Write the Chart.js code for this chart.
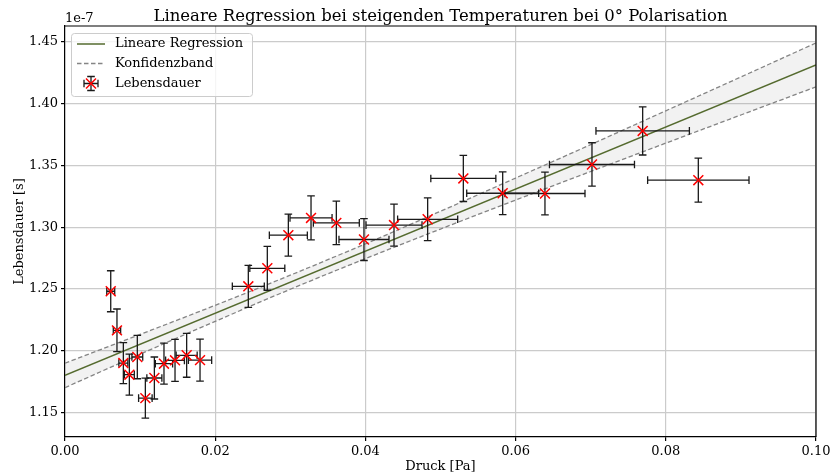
<!DOCTYPE html>
<html>
<head>
<meta charset="utf-8">
<script src="https://cdn.jsdelivr.net/npm/chart.js@4/dist/chart.umd.min.js"></script>
<style>
  html, body { margin: 0; padding: 0; background: #fff; }
  #wrap { width: 831px; height: 475px; }
</style>
</head>
<body>
<div id="wrap"><canvas id="c" width="831" height="475"></canvas></div>
<script>
// Pressure [Pa]
const pressure = [0.00609, 0.00692, 0.00777, 0.00857, 0.00963, 0.01070, 0.01190, 0.01318, 0.01465, 0.01620, 0.01798,
                  0.02441, 0.02694, 0.02974, 0.03276, 0.03613, 0.03981, 0.04381, 0.04829,
                  0.05304, 0.05828, 0.06391, 0.07017, 0.07692, 0.08433];
const pressureErr = [0.00053, 0.00049, 0.00060, 0.00066, 0.00072, 0.00090, 0.00100, 0.00115, 0.00125, 0.00140, 0.00155,
                     0.00213, 0.00233, 0.00253, 0.00280, 0.00306, 0.00333, 0.00373, 0.00400,
                     0.00433, 0.00479, 0.00533, 0.00566, 0.00622, 0.00675];
// Lifetime in units of 1e-7 s
const lifetime = [1.2481, 1.2164, 1.1899, 1.1805, 1.1948, 1.1615, 1.1778, 1.1894, 1.1921, 1.1962, 1.1923,
                  1.2521, 1.2667, 1.2935, 1.3075, 1.3035, 1.2900, 1.3017, 1.3064,
                  1.3395, 1.3275, 1.3273, 1.3508, 1.3780, 1.3381];
const lifetimeErr = [0.0166, 0.0173, 0.0166, 0.0166, 0.0176, 0.0162, 0.0170, 0.0166, 0.0170, 0.0178, 0.0170,
                     0.0170, 0.0178, 0.0170, 0.0178, 0.0176, 0.0170, 0.0170, 0.0173,
                     0.0187, 0.0173, 0.0173, 0.0176, 0.0195, 0.0178];

// Regression line end points
const regX = [0.0, 0.1];
const regY = [1.1799, 1.4315];

// Confidence band
const bandX = [0.00, 0.01, 0.02, 0.03, 0.04, 0.05, 0.06, 0.07, 0.08, 0.09, 0.10];
const bandUpper = [1.1898, 1.2131, 1.2367, 1.2611, 1.2865, 1.3129, 1.3398, 1.3669, 1.3943, 1.4217, 1.4493];
const bandLower = [1.1700, 1.1971, 1.2237, 1.2497, 1.2745, 1.2985, 1.3220, 1.3451, 1.3681, 1.3909, 1.4137];

// Axis ticks
const xTicks = [0.00, 0.02, 0.04, 0.06, 0.08, 0.10];
const yTicks = [1.15, 1.20, 1.25, 1.30, 1.35, 1.40, 1.45];

const SERIF = '"DejaVu Serif", "Liberation Serif", serif';
const OLIVE = '#556b2f';
const DASH_GREY = '#858585';
const BAR_COLOR = '#1a1a1a';

const pts = pressure.map((x, i) => ({ x: x, y: lifetime[i] }));
const regPts = regX.map((x, i) => ({ x: x, y: regY[i] }));
const upPts = bandX.map((x, i) => ({ x: x, y: bandUpper[i] }));
const loPts = bandX.map((x, i) => ({ x: x, y: bandLower[i] }));

// Error bars for the measured points, drawn just before their markers
const errorBars = {
  id: 'errorBars',
  beforeDatasetDraw(chart, args) {
    if (args.index !== 0) return;
    const { ctx, chartArea: a, scales: { x: sx, y: sy } } = chart;
    const cap = 3.8;
    ctx.save();
    ctx.beginPath();
    ctx.rect(a.left, a.top, a.right - a.left, a.bottom - a.top);
    ctx.clip();
    ctx.strokeStyle = BAR_COLOR;
    ctx.lineWidth = 1.3;
    pressure.forEach((xv, i) => {
      const px = sx.getPixelForValue(xv);
      const py = sy.getPixelForValue(lifetime[i]);
      const x0 = sx.getPixelForValue(xv - pressureErr[i]);
      const x1 = sx.getPixelForValue(xv + pressureErr[i]);
      const y0 = sy.getPixelForValue(lifetime[i] + lifetimeErr[i]);
      const y1 = sy.getPixelForValue(lifetime[i] - lifetimeErr[i]);
      ctx.beginPath();
      ctx.moveTo(x0, py); ctx.lineTo(x1, py);
      ctx.moveTo(x0, py - cap); ctx.lineTo(x0, py + cap);
      ctx.moveTo(x1, py - cap); ctx.lineTo(x1, py + cap);
      ctx.moveTo(px, y0); ctx.lineTo(px, y1);
      ctx.moveTo(px - cap, y0); ctx.lineTo(px + cap, y0);
      ctx.moveTo(px - cap, y1); ctx.lineTo(px + cap, y1);
      ctx.stroke();
    });
    ctx.restore();
  }
};

// Frame, title, axis labels, offset text and legend
const decorations = {
  id: 'decorations',
  afterDraw(chart) {
    const { ctx, chartArea: a } = chart;
    ctx.save();
    // top and right spines
    ctx.strokeStyle = '#000';
    ctx.lineWidth = 1.2;
    ctx.beginPath();
    ctx.moveTo(a.left, a.top); ctx.lineTo(a.right, a.top); ctx.lineTo(a.right, a.bottom);
    ctx.stroke();

    ctx.fillStyle = '#000';
    // title
    ctx.font = '16.5px ' + SERIF;
    ctx.textAlign = 'center';
    ctx.textBaseline = 'alphabetic';
    ctx.fillText('Lineare Regression bei steigenden Temperaturen bei 0° Polarisation', (a.left + a.right) / 2, 21);

    // offset text
    ctx.font = '13px ' + SERIF;
    ctx.textAlign = 'left';
    ctx.fillText('1e-7', a.left, 22);

    // x label
    ctx.textAlign = 'center';
    ctx.fillText('Druck [Pa]', (a.left + a.right) / 2, 470);

    // y label
    ctx.save();
    ctx.translate(23, (a.top + a.bottom) / 2);
    ctx.rotate(-Math.PI / 2);
    ctx.textBaseline = 'alphabetic';
    ctx.fillText('Lebensdauer [s]', 0, 0);
    ctx.restore();

    // legend
    const lx = a.left + 6, ly = a.top + 7, lw = 181, lh = 63;
    ctx.beginPath();
    if (ctx.roundRect) ctx.roundRect(lx + 0.5, ly + 0.5, lw, lh, 3); else ctx.rect(lx + 0.5, ly + 0.5, lw, lh);
    ctx.fillStyle = 'rgba(255,255,255,0.8)';
    ctx.fill();
    ctx.strokeStyle = '#cccccc';
    ctx.lineWidth = 1;
    ctx.stroke();

    const sx0 = lx + 6, sx1 = lx + 34, tx = lx + 44;
    const rows = [ly + 11, ly + 30.5, ly + 50.5];
    // regression sample
    ctx.strokeStyle = OLIVE;
    ctx.lineWidth = 1.5;
    ctx.beginPath(); ctx.moveTo(sx0, rows[0]); ctx.lineTo(sx1, rows[0]); ctx.stroke();
    // band sample
    ctx.strokeStyle = DASH_GREY;
    ctx.lineWidth = 1.3;
    ctx.setLineDash([4.5, 2.5]);
    ctx.beginPath(); ctx.moveTo(sx0, rows[1]); ctx.lineTo(sx1, rows[1]); ctx.stroke();
    ctx.setLineDash([]);
    // errorbar sample
    const cx = (sx0 + sx1) / 2, cy = rows[2], e = 7, c = 3.8;
    ctx.strokeStyle = BAR_COLOR;
    ctx.lineWidth = 1.3;
    ctx.beginPath();
    ctx.moveTo(cx - e, cy); ctx.lineTo(cx + e, cy);
    ctx.moveTo(cx - e, cy - c); ctx.lineTo(cx - e, cy + c);
    ctx.moveTo(cx + e, cy - c); ctx.lineTo(cx + e, cy + c);
    ctx.moveTo(cx, cy - e); ctx.lineTo(cx, cy + e);
    ctx.moveTo(cx - c, cy - e); ctx.lineTo(cx + c, cy - e);
    ctx.moveTo(cx - c, cy + e); ctx.lineTo(cx + c, cy + e);
    ctx.stroke();
    ctx.strokeStyle = 'red';
    ctx.lineWidth = 1.5;
    ctx.beginPath();
    ctx.moveTo(cx - 5, cy - 5); ctx.lineTo(cx + 5, cy + 5);
    ctx.moveTo(cx - 5, cy + 5); ctx.lineTo(cx + 5, cy - 5);
    ctx.stroke();

    ctx.fillStyle = '#000';
    ctx.font = '13px ' + SERIF;
    ctx.textAlign = 'left';
    ctx.textBaseline = 'middle';
    ctx.fillText('Lineare Regression', tx, rows[0]);
    ctx.fillText('Konfidenzband', tx, rows[1]);
    ctx.fillText('Lebensdauer', tx, rows[2]);
    ctx.restore();
  }
};

const tickFont = { family: SERIF, size: 13 };

new Chart(document.getElementById('c'), {
  type: 'scatter',
  data: {
    datasets: [
      {
        label: 'Lebensdauer',
        data: pts,
        pointStyle: 'crossRot',
        pointRadius: 7,
        pointHoverRadius: 7,
        borderColor: 'red',
        backgroundColor: 'red',
        pointBorderWidth: 1.5,
        showLine: false
      },
      {
        label: 'Lineare Regression',
        data: regPts,
        showLine: true,
        borderColor: OLIVE,
        borderWidth: 1.5,
        pointRadius: 0,
        fill: false
      },
      {
        label: 'Konfidenzband',
        data: upPts,
        showLine: true,
        borderColor: DASH_GREY,
        borderWidth: 1.3,
        borderDash: [4.5, 2.5],
        pointRadius: 0,
        cubicInterpolationMode: 'monotone',
        fill: '+1',
        backgroundColor: 'rgba(128,128,128,0.1)'
      },
      {
        label: 'Konfidenzband unten',
        data: loPts,
        showLine: true,
        borderColor: DASH_GREY,
        borderWidth: 1.3,
        borderDash: [4.5, 2.5],
        pointRadius: 0,
        cubicInterpolationMode: 'monotone',
        fill: false
      }
    ]
  },
  options: {
    responsive: false,
    animation: false,
    events: [],
    layout: { padding: { left: 0, top: 26, right: 15, bottom: 0 } },
    plugins: {
      legend: { display: false },
      title: { display: false },
      tooltip: { enabled: false }
    },
    scales: {
      x: {
        type: 'linear',
        min: 0,
        max: 0.1,
        afterFit(scale) { scale.height = 38; scale.paddingLeft = 0; scale.paddingRight = 0; },
        afterBuildTicks(scale) { scale.ticks = xTicks.map(v => ({ value: v })); },
        ticks: {
          font: tickFont,
          color: '#000',
          padding: 3,
          maxRotation: 0,
          callback: v => Number(v).toFixed(2)
        },
        grid: { color: '#cbcbcb', lineWidth: 1.2, tickColor: '#000', tickLength: 4, tickWidth: 1.2 },
        border: { color: '#000', width: 1.2 }
      },
      y: {
        type: 'linear',
        min: 1.13,
        max: 1.463,
        afterFit(scale) { scale.width = 65; scale.paddingTop = 0; scale.paddingBottom = 0; },
        afterBuildTicks(scale) { scale.ticks = yTicks.map(v => ({ value: v })); },
        ticks: {
          font: tickFont,
          color: '#000',
          padding: 3,
          callback: v => Number(v).toFixed(2)
        },
        grid: { color: '#cbcbcb', lineWidth: 1.2, tickColor: '#000', tickLength: 4, tickWidth: 1.2 },
        border: { color: '#000', width: 1.2 }
      }
    }
  },
  plugins: [errorBars, decorations]
});
</script>
</body>
</html>
